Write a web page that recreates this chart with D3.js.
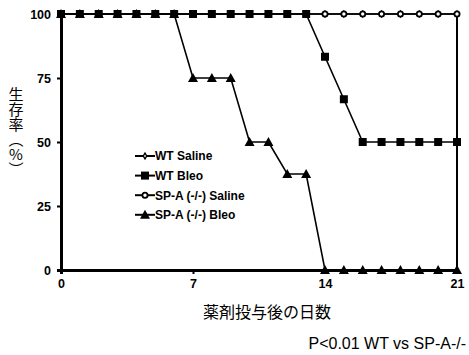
<!DOCTYPE html>
<html>
<head>
<meta charset="utf-8">
<script src="https://cdn.jsdelivr.net/npm/d3@7"></script>
<style>
  body { margin: 0; background: #fff; }
  svg { display: block; }
  .tick text { font-family: "Liberation Sans", Arial, sans-serif; font-weight: bold; font-size: 12.5px; fill: #000; }
  .legend text { font-family: "Liberation Sans", Arial, sans-serif; font-weight: bold; font-size: 12px; }
  .jp { font-family: "Noto Sans CJK JP", sans-serif; font-size: 16px; }
</style>
</head>
<body>
<div id="chart"></div>
<script>
// days after administration
const days = [0, 1, 2, 3, 4, 5, 6, 7, 8, 9, 10, 11, 12, 13, 14, 15, 16, 17, 18, 19, 20, 21];
const xTicks = [0, 7, 14, 21];
const yTicks = [0, 25, 50, 75, 100];

// survival (%)
const wtSaline  = [100, 100, 100, 100, 100, 100, 100, 100, 100, 100, 100, 100, 100, 100, 100, 100, 100, 100, 100, 100, 100, 100];
const wtBleo    = [100, 100, 100, 100, 100, 100, 100, 100, 100, 100, 100, 100, 100, 100, 83.3, 66.7, 50, 50, 50, 50, 50, 50];
const spaSaline = [100, 100, 100, 100, 100, 100, 100, 100, 100, 100, 100, 100, 100, 100, 100, 100, 100, 100, 100, 100, 100, 100];
const spaBleo   = [100, 100, 100, 100, 100, 100, 100, 75, 75, 75, 50, 50, 37.5, 37.5, 0, 0, 0, 0, 0, 0, 0, 0];

const seriesNames = ['WT Saline', 'WT Bleo', 'SP-A (-/-) Saline', 'SP-A (-/-) Bleo'];

const width = 469, height = 355;
const margin = {top: 14, right: 12, bottom: 85, left: 61};
const w = width - margin.left - margin.right;
const h = height - margin.top - margin.bottom;

const svg = d3.select('#chart').append('svg')
    .attr('width', width)
    .attr('height', height);

const plot = svg.append('g')
    .attr('transform', `translate(${margin.left},${margin.top})`);

const x = d3.scaleLinear().domain([0, 21]).range([0, w]);
const y = d3.scaleLinear().domain([0, 100]).range([h, 0]);

// axes
const xAxis = d3.axisBottom(x).tickValues(xTicks).tickSize(4).tickPadding(5).tickFormat(d3.format('d'));
const yAxis = d3.axisLeft(y).tickValues(yTicks).tickSize(4).tickPadding(6).tickFormat(d3.format('d'));

const gx = plot.append('g').attr('transform', `translate(0,${h})`).call(xAxis);
const gy = plot.append('g').call(yAxis);
[gx, gy].forEach(g => {
  g.select('.domain').attr('stroke', '#000').attr('stroke-width', 3);
  g.selectAll('.tick line').attr('stroke', '#000').attr('stroke-width', 2);
});

// right border of the plot area
plot.append('line')
    .attr('x1', x(21)).attr('x2', x(21))
    .attr('y1', y(0)).attr('y2', y(100))
    .attr('stroke', '#000').attr('stroke-width', 2);

const line = d3.line().x((d, i) => x(days[i])).y(d => y(d));

// marker shapes
function marker(g, kind) {
  if (kind == 'diamond') {
    g.append('path').attr('d', d3.symbol(d3.symbolDiamond, 10)())
      .attr('fill', '#fff').attr('stroke', '#000').attr('stroke-width', 1.4);
  } else if (kind == 'square') {
    g.append('rect').attr('x', -4).attr('y', -4).attr('width', 8).attr('height', 8).attr('fill', '#000');
  } else if (kind == 'circle') {
    g.append('circle').attr('r', 2.6).attr('fill', '#fff').attr('stroke', '#000').attr('stroke-width', 1.8);
  } else {
    g.append('path').attr('d', 'M0,-5L5,4L-5,4Z').attr('fill', '#000');
  }
}

const series = [
  {name: seriesNames[0], values: wtSaline, kind: 'diamond'},
  {name: seriesNames[2], values: spaSaline, kind: 'circle'},
  {name: seriesNames[1], values: wtBleo, kind: 'square'},
  {name: seriesNames[3], values: spaBleo, kind: 'triangle'}
];

series.forEach(s => {
  plot.append('path')
      .datum(s.values)
      .attr('d', line)
      .attr('fill', 'none')
      .attr('stroke', '#000')
      .attr('stroke-width', 1.6);
  s.values.forEach((v, i) => {
    const g = plot.append('g').attr('transform', `translate(${x(days[i])},${y(v)})`);
    marker(g, s.kind);
  });
});

// legend
const legendKinds = ['diamond', 'square', 'circle', 'triangle'];
const legend = svg.append('g').attr('class', 'legend').attr('transform', 'translate(135,156)');
seriesNames.forEach((name, i) => {
  const g = legend.append('g').attr('transform', `translate(0,${i * 19.6})`);
  g.append('line').attr('x1', 0).attr('x2', 20).attr('stroke', '#000').attr('stroke-width', 2);
  marker(g.append('g').attr('transform', 'translate(10,0)'), legendKinds[i]);
  g.append('text').attr('x', 20).attr('dy', '0.36em').text(name);
});

// axis titles
svg.append('text')
    .attr('class', 'jp')
    .attr('x', 16).attr('y', 87)
    .style('writing-mode', 'vertical-rl')
    .style('text-orientation', 'upright')
    .style('font-size', '15px')
    .text('生存率（%）');

svg.append('text')
    .attr('class', 'jp')
    .attr('x', 267).attr('y', 318)
    .attr('text-anchor', 'middle')
    .text('薬剤投与後の日数');

svg.append('text')
    .attr('x', 466).attr('y', 349)
    .attr('text-anchor', 'end')
    .style('font-family', '"Liberation Sans", Arial, sans-serif')
    .style('font-size', '16px')
    .text('P<0.01 WT vs SP-A-/-');
</script>
</body>
</html>
